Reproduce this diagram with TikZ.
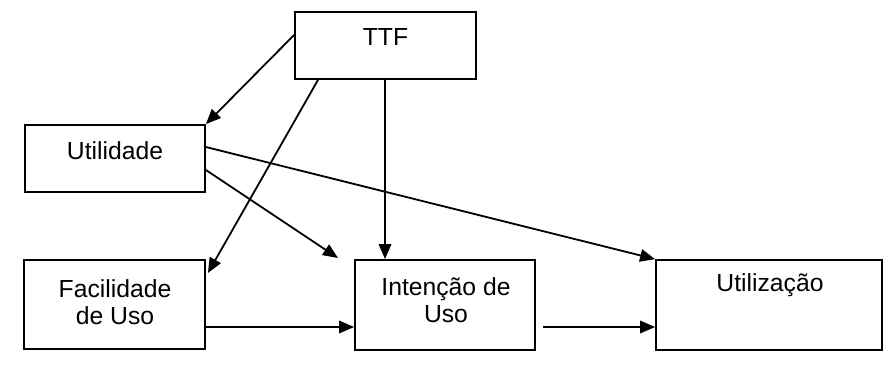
\documentclass[tikz,border=0pt]{standalone}
\usepackage{fontspec}
\setmainfont{Liberation Sans}
\usetikzlibrary{arrows.meta,calc}
\begin{document}
\begin{tikzpicture}[x=1pt,y=-1pt,
  box/.style={draw=black,line width=1.8pt,rectangle,inner sep=0pt},
  lbl/.style={font=\fontsize{24.7}{27}\selectfont,align=center,inner sep=0pt},
  arr/.style={line width=1.8pt,-{Triangle[length=15pt,width=12.5pt]}},
  ln/.style={line width=1.8pt}]
\useasboundingbox (0,0) rectangle (896,373);
\node[box,minimum width=181pt,minimum height=67pt] (ttf) at (385.5,45.5) {};
\node[box,minimum width=180pt,minimum height=67pt] (util) at (115,158.5) {};
\node[box,minimum width=181pt,minimum height=89pt] (fac) at (114.5,304.5) {};
\node[box,minimum width=180pt,minimum height=90pt] (int) at (445,305) {};
\node[box,minimum width=226pt,minimum height=90pt] (uzn) at (769,305) {};
\node[lbl] (tttf) at (385.5,37) {TTF};
\node[lbl] (tutil) at (115,151) {Utilidade};
\node[lbl] (tfac) at (115,302) {Facilidade\\de Uso};
\node[lbl] (tint) at (446,300) {Intenção de\\Uso};
\node[lbl] (tuzn) at (770,285) {Utilização};
\coordinate (uend) at (338,258);
\coordinate (iout) at (543,327);
\coordinate (tdown) at (385,79);
\draw[arr] ([yshift=10.5pt]ttf.west) -- (util.north east);
\draw[arr] ([xshift=-67.5pt]ttf.south) -- ([xshift=2pt,yshift=31.5pt]fac.east);
\draw[arr] (tdown) -- (tdown |- int.north);
\draw[arr] ([yshift=11.5pt]util.east) -- (uzn.north west);
\draw[arr] ([yshift=-11.5pt]util.east) -- (uend);
\draw[arr] ([yshift=-22.5pt]fac.east) -- ([yshift=-22pt]int.west);
\draw[arr] (iout) -- (iout -| uzn.west);
\end{tikzpicture}
\end{document}
